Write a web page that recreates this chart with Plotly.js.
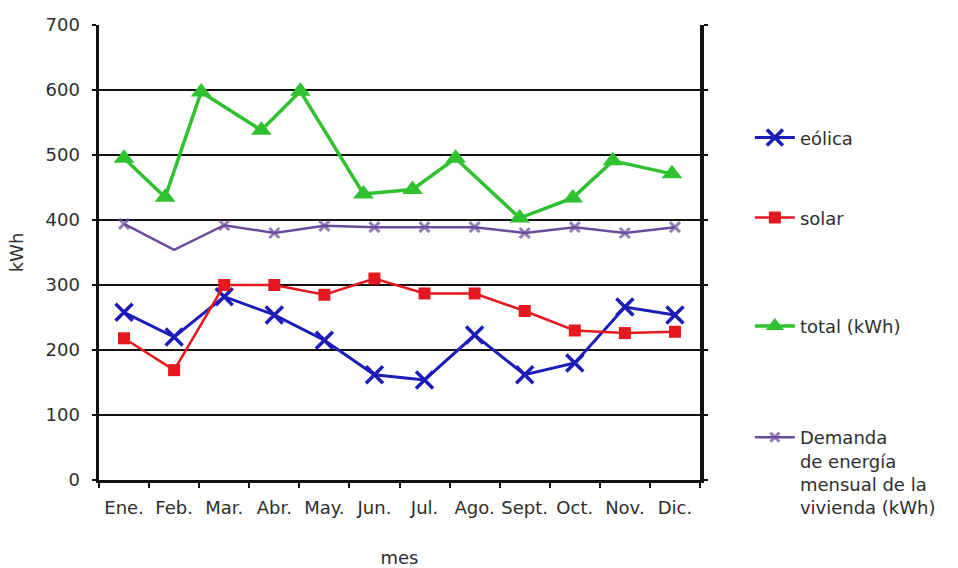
<!DOCTYPE html>
<html>
<head>
<meta charset="utf-8">
<script src="https://cdn.plot.ly/plotly-3.0.1.min.js"></script>
<style>
  html, body { margin: 0; padding: 0; background: #ffffff; }
  #chart { width: 958px; height: 568px; }
</style>
</head>
<body>
<div id="chart"></div>
<script>
// Meses del año
const meses = ["Ene.", "Feb.", "Mar.", "Abr.", "May.", "Jun.", "Jul.", "Ago.", "Sept.", "Oct.", "Nov.", "Dic."];

// Producción mensual (kWh)
const eolica = [258, 220, 282, 254, 215, 162, 154, 223, 162, 180, 266, 254];
const solar  = [218, 169, 300, 300, 285, 310, 287, 287, 260, 230, 226, 228];
const total  = [495, 435, 597, 538, 598, 440, 447, 495, 403, 434, 491, 471];
// posición (índice de mes) donde se trazó cada punto del total
const totalMes = [0, 0.82, 1.54, 2.74, 3.52, 4.78, 5.76, 6.62, 7.9, 8.96, 9.76, 10.94];

// Demanda de energía mensual de la vivienda (kWh)
const demanda = [394, 354, 392, 380, 391, 389, 389, 389, 380, 389, 380, 389];

const FAMILY = "DejaVu Sans, Verdana, sans-serif";
const tickFont = { family: FAMILY, size: 18, color: "#2e2e2e" };
const titleFont = { family: FAMILY, size: 18, color: "#2e2e2e" };

const traces = [
  {
    name: "eólica", x: meses, y: eolica, type: "scatter", mode: "lines+markers",
    line: { color: "#1c1cb8", width: 3 },
    marker: { symbol: "x-thin", size: 17, color: "#1c1cb8", line: { color: "#1c1cb8", width: 3.5 } },
    legend: "legend"
  },
  {
    name: "solar", x: meses, y: solar, type: "scatter", mode: "lines+markers",
    line: { color: "#e4181e", width: 2.5 },
    marker: { symbol: "square", size: 12, color: "#e4181e" },
    legend: "legend2"
  },
  {
    name: "total (kWh)", x: totalMes, y: total, xaxis: "x2", type: "scatter", mode: "lines+markers",
    line: { color: "#2fc12f", width: 3.5 },
    marker: { symbol: "triangle-up", size: 18, color: "#2fc12f" },
    legend: "legend3"
  },
  {
    name: "Demanda<br>de energía<br>mensual de la<br>vivienda (kWh)", x: meses, y: demanda,
    type: "scatter", mode: "lines+markers",
    line: { color: "#6b4b9e", width: 2.5 },
    marker: { symbol: "x-thin", size: [10, 0, 10, 10, 10, 10, 10, 10, 10, 10, 10, 10],
              color: "#6b4b9e", line: { color: "#6b4b9e", width: 3 } },
    legend: "legend4"
  }
];

const legendBase = {
  x: 1.083, xanchor: "left", yanchor: "middle",
  bgcolor: "rgba(0,0,0,0)", borderwidth: 0,
  font: { family: FAMILY, size: 18, color: "#2e2e2e" },
  valign: "top", itemwidth: 40
};

const layout = {
  width: 958, height: 568,
  margin: { l: 99, r: 258, t: 25, b: 88 },
  paper_bgcolor: "#ffffff", plot_bgcolor: "#ffffff",
  font: tickFont,
  showlegend: true,
  legend:  Object.assign({}, legendBase, { y: 0.752 }),
  legend2: Object.assign({}, legendBase, { y: 0.576 }),
  legend3: Object.assign({}, legendBase, { y: 0.338 }),
  legend4: Object.assign({}, legendBase, { y: 0.134, yanchor: "top" }),
  xaxis: {
    type: "category", range: [-0.5, 11.5],
    tickson: "boundaries", ticks: "outside", ticklen: 5, tickwidth: 2, tickcolor: "#111",
    showline: true, linecolor: "#111", linewidth: 3,
    showgrid: false, zeroline: false,
    tickangle: 0, ticklabelstandoff: 9,
    tickfont: tickFont,
    title: { text: "mes", font: titleFont, standoff: 36 }
  },
  xaxis2: {
    overlaying: "x", range: [-0.5, 11.5], visible: false, fixedrange: true
  },
  yaxis: {
    range: [0, 700], dtick: 100, tick0: 0,
    ticks: "outside", ticklen: 4, tickwidth: 2, tickcolor: "#111",
    showline: true, linecolor: "#111", linewidth: 3.5, mirror: "ticks",
    showgrid: true, gridcolor: "#111", gridwidth: 2.5,
    zeroline: false, ticklabelstandoff: 8,
    tickfont: tickFont,
    title: { text: "kWh", font: titleFont, standoff: 18 }
  }
};

Plotly.newPlot("chart", traces, layout, { displayModeBar: false, staticPlot: true });
</script>
</body>
</html>
